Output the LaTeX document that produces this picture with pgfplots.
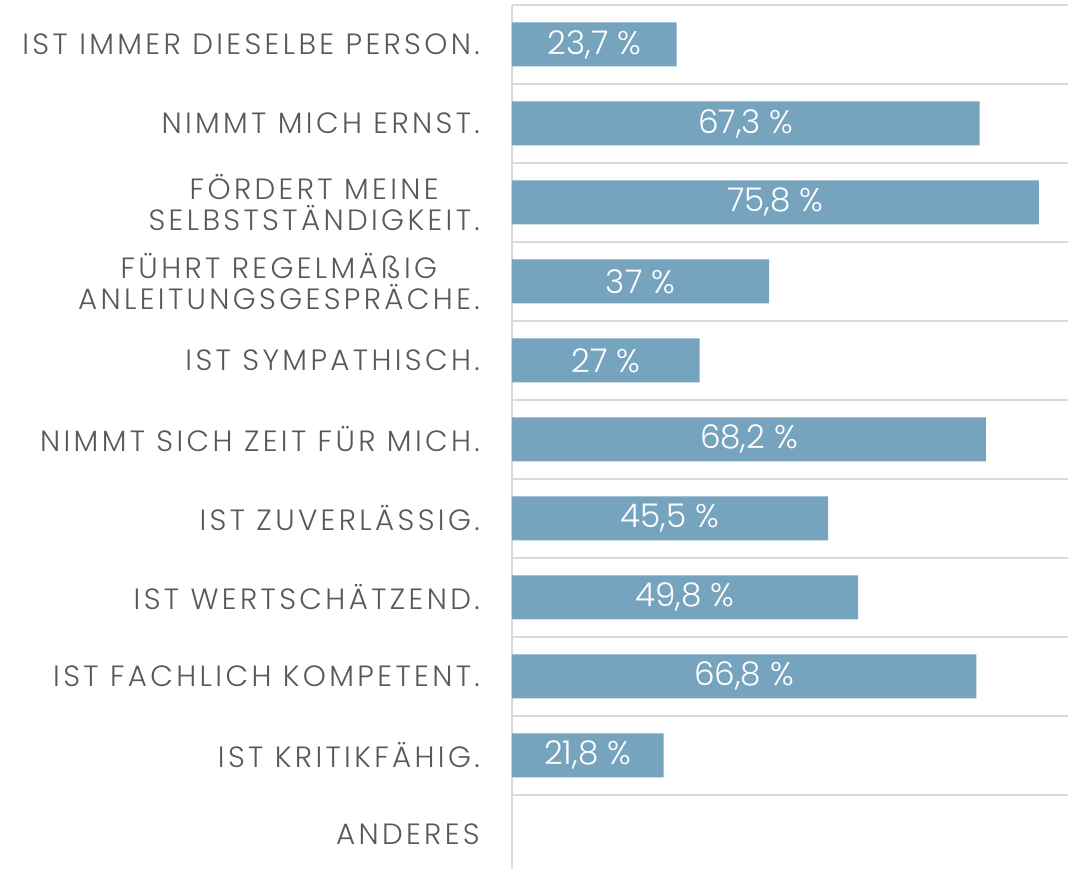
\documentclass[border=0pt]{standalone}
\usepackage{pgfplots}
\pgfplotsset{compat=1.18}
\usepackage{pgfplotstable}
\usepackage{fontspec}
\setmainfont{Poppins Light}
\newfontfamily\catfont{Poppins Light}[LetterSpace=11.5]
\definecolor{barblue}{HTML}{76A3BD}
\definecolor{gridgray}{HTML}{D9D9D9}
\definecolor{labgray}{HTML}{595959}

% idx 0 = top row
\pgfplotstableread{
idx val
0 23.7
1 67.3
2 75.8
3 37
4 27
5 68.2
6 45.5
7 49.8
8 66.8
9 21.8
}\quotes

\begin{document}
\begin{tikzpicture}
\begin{axis}[
    name=ax,
    scale only axis, width=417pt, height=648pt,
    xmin=0, xmax=80, ymin=-0.5, ymax=10.44,
    y dir=reverse,
    axis x line=none,
    axis y line*=left,
    y axis line style={draw=gridgray, line width=1.1pt},
    ytick={0,...,10},
    yticklabels={
        IST IMMER DIESELBE PERSON.,
        NIMMT MICH ERNST.,
        {FÖRDERT MEINE\\SELBSTSTÄNDIGKEIT.},
        {FÜHRT REGELMÄßIG\\ANLEITUNGSGESPRÄCHE.},
        IST SYMPATHISCH.,
        NIMMT SICH ZEIT FÜR MICH.,
        IST ZUVERLÄSSIG.,
        IST WERTSCHÄTZEND.,
        IST FACHLICH KOMPETENT.,
        IST KRITIKFÄHIG.,
        ANDERES},
    yticklabel style={font=\catfont\fontsize{22}{23.5}\selectfont, text=labgray,
        align=center, inner sep=0pt, xshift=-24pt},
    major tick length=0pt, minor tick length=0pt,
    minor ytick={-0.5,0.5,...,9.5},
    yminorgrids,
    minor grid style={draw=gridgray, line width=1.1pt},
    /pgf/number format/assume math mode=true,
    clip=false,
]
\addplot[xbar, bar width=33pt, fill=barblue, draw=none] table[x=val, y=idx] {\quotes};
\addplot[draw=none, mark=none, point meta=explicit,
    nodes near coords={\pgfmathprintnumber[use comma]{\pgfplotspointmeta}~\%},
    nodes near coords style={anchor=center, text=white, font=\fontsize{24.5}{26}\selectfont}]
    table[x expr=\thisrow{val}/2, y=idx, meta=val] {\quotes};
\end{axis}
\pgfresetboundingbox
\path[use as bounding box] ([xshift=-384pt]ax.south west) rectangle ([xshift=6pt,yshift=3.75pt]ax.north east);
\end{tikzpicture}
\end{document}
